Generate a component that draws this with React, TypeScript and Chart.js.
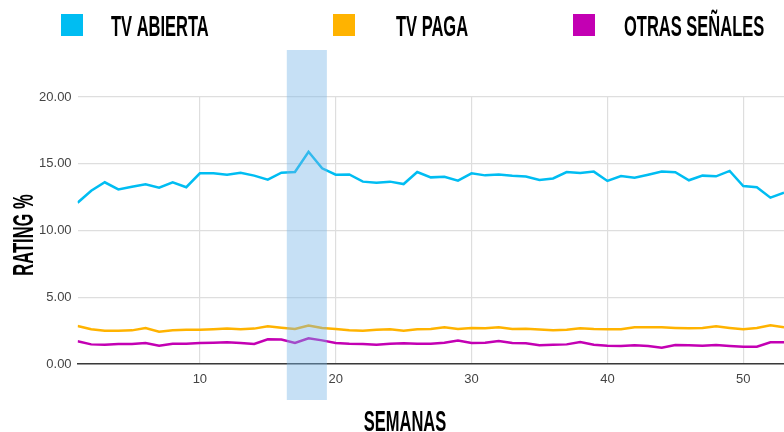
import React, { useEffect, useRef } from "react";
import { Chart, registerables } from "chart.js";

Chart.register(...registerables);

const weeks = [1,2,3,4,5,6,7,8,9,10,11,12,13,14,15,16,17,18,19,20,21,22,23,24,25,26,27,28,29,30,31,32,33,34,35,36,37,38,39,40,41,42,43,44,45,46,47,48,49,50,51,52,53];

const tvAbierta = [12.08,12.98,13.61,13.08,13.28,13.46,13.21,13.61,13.24,14.28,14.28,14.18,14.33,14.11,13.81,14.33,14.38,15.9,14.66,14.18,14.2,13.66,13.58,13.66,13.48,14.38,13.98,14.03,13.73,14.28,14.13,14.2,14.11,14.05,13.78,13.9,14.38,14.31,14.41,13.71,14.08,13.96,14.18,14.41,14.36,13.76,14.11,14.06,14.46,13.33,13.24,12.46,12.83];

const tvPaga = [2.85,2.6,2.5,2.5,2.52,2.7,2.42,2.52,2.57,2.57,2.6,2.65,2.6,2.65,2.82,2.72,2.62,2.88,2.7,2.62,2.52,2.5,2.57,2.6,2.5,2.6,2.62,2.75,2.62,2.7,2.67,2.75,2.62,2.64,2.58,2.52,2.57,2.67,2.62,2.6,2.6,2.75,2.75,2.75,2.7,2.67,2.7,2.82,2.7,2.6,2.7,2.9,2.75];

const otrasSenales = [1.7,1.47,1.45,1.5,1.5,1.57,1.37,1.52,1.52,1.57,1.6,1.62,1.57,1.5,1.85,1.83,1.57,1.92,1.77,1.57,1.52,1.5,1.45,1.52,1.55,1.52,1.52,1.6,1.75,1.57,1.6,1.72,1.57,1.56,1.4,1.45,1.47,1.65,1.45,1.37,1.35,1.4,1.35,1.22,1.42,1.4,1.37,1.42,1.35,1.3,1.3,1.62,1.62];

const seriesLabels = ["TV ABIERTA", "TV PAGA", "OTRAS SEÑALES"];
const seriesColors = ["#00BDF2", "#FFB300", "#C300B3"];

const yTicks = [0, 5, 10, 15, 20];
const highlightStart = 16.4;
const highlightEnd = 19.35;

const xTitle = "SEMANAS";
const yTitle = "RATING %";

const TITLE_FONT = "bold 30px 'Liberation Sans', Arial, sans-serif";
const SQUEEZE = 0.55;

function drawSqueezed(ctx: CanvasRenderingContext2D, text: string, x: number, y: number, align: "left" | "center", rotate = 0) {
  ctx.save();
  ctx.font = TITLE_FONT;
  ctx.fillStyle = "#000";
  ctx.textBaseline = "alphabetic";
  ctx.textAlign = "left";
  const w = ctx.measureText(text).width;
  ctx.translate(x, y);
  if (rotate) ctx.rotate(rotate);
  ctx.scale(SQUEEZE, 1);
  ctx.fillText(text, align === "center" ? -w / 2 : 0, 0);
  ctx.restore();
}

const overlayPlugin = {
  id: "overlayPlugin",
  afterDatasetsDraw(chart: any) {
    const ctx = chart.ctx as CanvasRenderingContext2D;
    const xs = chart.scales.x;
    const area = chart.chartArea;
    const x0 = xs.getPixelForValue(highlightStart);
    const x1 = xs.getPixelForValue(highlightEnd);
    ctx.save();
    ctx.fillStyle = "rgba(120,180,232,0.42)";
    ctx.fillRect(x0, area.top - 47, x1 - x0, area.bottom - area.top + 83);
    ctx.restore();
  },
  afterDraw(chart: any) {
    const ctx = chart.ctx as CanvasRenderingContext2D;
    const boxX = [61, 333, 573];
    const textX = [111, 396, 624];
    chart.data.datasets.forEach((ds: any, i: number) => {
      ctx.save();
      ctx.fillStyle = ds.borderColor;
      ctx.fillRect(boxX[i], 14, 22, 22);
      ctx.restore();
      drawSqueezed(ctx, ds.label, textX[i], 36, "left");
    });
    drawSqueezed(ctx, xTitle, 405, 431, "center");
    drawSqueezed(ctx, yTitle, 33, 235, "center", -Math.PI / 2);
  },
};

export default function App() {
  const ref = useRef<HTMLCanvasElement | null>(null);
  useEffect(() => {
    if (!ref.current) return;
    const series = [tvAbierta, tvPaga, otrasSenales];
    const chart = new Chart(ref.current, {
      type: "line",
      data: {
        labels: weeks,
        datasets: series.map((d, i) => ({
          label: seriesLabels[i],
          data: d,
          borderColor: seriesColors[i],
          backgroundColor: seriesColors[i],
          borderWidth: 2.5,
          pointRadius: 0,
          tension: 0,
          fill: false,
        })),
      },
      options: {
        responsive: false,
        animation: false,
        layout: { padding: { top: 97, right: 0, left: 0, bottom: 0 } },
        plugins: {
          legend: { display: false },
          title: { display: false },
          tooltip: { enabled: false },
        },
        scales: {
          x: {
            type: "linear",
            min: weeks[0],
            max: weeks[weeks.length - 1],
            afterFit(scale: any) {
              scale.height = 68;
            },
            ticks: {
              stepSize: 10,
              includeBounds: false,
              color: "#444",
              padding: 8,
              font: { family: "'Liberation Sans', Arial, sans-serif", size: 13 },
              maxRotation: 0,
            },
            grid: { color: "#dedede", lineWidth: 1.2, drawTicks: false },
            border: { display: true, color: "#3a3a3a", width: 1.6 },
          },
          y: {
            min: yTicks[0],
            max: yTicks[yTicks.length - 1],
            afterFit(scale: any) {
              scale.width = 77.6;
            },
            afterBuildTicks(scale: any) {
              scale.ticks = yTicks.map((v) => ({ value: v }));
            },
            ticks: {
              color: "#444",
              padding: 6,
              font: { family: "'Liberation Sans', Arial, sans-serif", size: 13 },
              callback: (v: any) => Number(v).toFixed(2),
            },
            grid: { color: "#dedede", lineWidth: 1.2, drawTicks: false },
            border: { display: false },
          },
        },
      },
      plugins: [overlayPlugin],
    } as any);
    return () => chart.destroy();
  }, []);
  return (
    <div style={{ position: "fixed", left: 0, top: 0, width: 784, height: 432, background: "#fff" }}>
      <canvas ref={ref} width={784} height={432} />
    </div>
  );
}
